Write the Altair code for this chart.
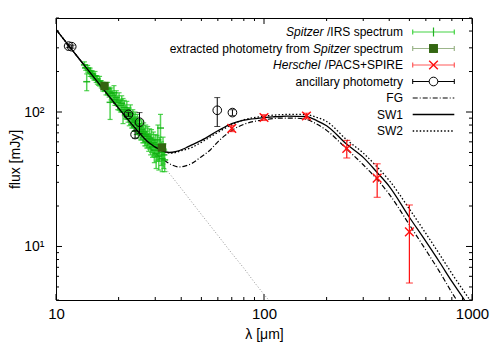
import altair as alt
import pandas as pd

# ---------------- data ----------------
spitzer_wl = [13.7, 13.9, 14.05, 14.2, 14.4, 14.6, 14.8, 15.0, 15.2, 15.4, 15.6, 15.8, 16.0, 16.2, 16.5, 16.8, 17.1, 17.4, 17.7, 18.0,
              18.2, 18.4, 18.7, 19.0, 19.2, 19.5, 19.8, 20.1, 20.4, 20.7, 21.0, 21.3, 21.6, 21.9, 22.2, 22.5, 22.8, 23.1, 23.4, 23.7,
              24.0, 24.3, 24.6, 24.9, 25.2, 25.5, 25.8, 26.1, 26.4, 26.7, 27.0, 27.3, 27.6, 27.9, 28.2, 28.5, 28.8, 29.1, 29.4, 29.7,
              30.0, 30.3, 30.6, 30.9, 31.2, 31.5, 31.8, 32.1, 32.4, 32.7, 33.0, 33.3]
spitzer_flux = [224, 214, 168, 210, 204, 198, 193, 190, 183, 186, 176, 173, 168, 170, 161, 155, 152, 146, 150, 141,
                118, 137, 132, 139, 124, 128, 118, 121, 112, 116, 104, 108, 101, 104, 96, 93, 97, 88, 90, 84,
                86, 80, 82, 76, 78, 72, 74, 69, 71, 66, 68, 63, 66, 60, 64, 58, 62, 55, 59, 52,
                57, 49, 55, 62, 47, 54, 76, 50, 45, 53, 48, 44]
spitzer_err = [12, 10, 24, 12, 10, 14, 10, 12, 10, 14, 10, 12, 10, 14, 10, 12, 10, 12, 16, 12,
               30, 14, 12, 18, 12, 16, 14, 18, 12, 16, 22, 14, 12, 16, 12, 14, 16, 12, 14, 12,
               14, 12, 14, 12, 10, 10, 12, 10, 12, 10, 12, 9, 12, 9, 11, 10, 12, 9, 12, 10,
               11, 11, 12, 18, 10, 11, 20, 10, 9, 12, 10, 8]

phot_wl = [17.1, 32.3]
phot_flux = [156, 54.4]
phot_err = [3, 2]

herschel_wl = [70, 100, 160, 250, 350, 500]
herschel_flux = [75.5, 91, 93.4, 53.5, 32.2, 12.85]
herschel_err = [4, 4.5, 4.5, 8, 9, 7.5]

anc_wl = [11.5, 11.9, 22.3, 24.0, 25.2, 59.6, 70.5]
anc_flux = [309, 306, 96, 68, 84, 103, 99]
anc_err = [8, 8, 3, 4, 15, 25, 5]

sw1_wl = [10, 12, 14, 17, 20, 24, 28, 32, 35, 38, 42, 45, 50, 60, 70, 80, 95, 110, 130, 160, 180, 200, 250, 300, 350, 400, 500, 600, 700, 800, 920, 960]
sw1_flux = [411, 287, 213, 146, 107, 76, 59, 52, 50, 51, 54, 57, 61.5, 72.5, 82, 87, 90, 92, 93.3, 92.5, 86, 79, 57.5, 46, 35.5, 28, 16.5, 10.9, 7.6, 5.5, 4.0, 3.6]

fg_wl = [10, 12, 14, 17, 20, 24, 28, 32, 36, 39, 42, 45, 49, 55, 60, 65, 70, 80, 100, 120, 140, 160, 180, 200, 250, 300, 350, 400, 500, 600, 700, 800, 843, 880]
fg_flux = [411, 287, 212, 144, 105, 73, 55, 45.5, 40.5, 39, 39.8, 41.5, 45.5, 52, 60, 67, 73, 81, 87.5, 90, 90, 88, 81, 73, 53, 40.5, 31.5, 24.5, 14.5, 9.4, 6.45, 4.55, 4.0, 3.6]

sw2_wl = [10, 12, 14, 17, 20, 24, 28, 32, 36, 40, 45, 50, 60, 70, 80, 100, 120, 140, 160, 180, 200, 250, 300, 350, 400, 500, 600, 700, 800, 977, 1000]
sw2_flux = [411, 287, 213, 146, 107, 76, 59, 51.5, 49.5, 51.5, 54.5, 59.5, 70.5, 80.5, 87.5, 93, 95.5, 96, 95.5, 91, 85, 62, 49.5, 39, 31, 19, 12.5, 8.7, 6.3, 4.0, 3.8]

pl_wl = [10, 20, 30, 40, 50, 60, 70, 80, 90, 100, 106, 110]
pl_flux = [411, 105, 47.5, 27, 17.3, 12.1, 8.9, 6.9, 5.4, 4.4, 3.95, 3.7]

x_major = [10, 100, 1000]
x_minor = [20, 30, 40, 50, 60, 70, 80, 90, 200, 300, 400, 500, 600, 700, 800, 900]
y_major = [10, 100]
y_minor = [4, 5, 6, 7, 8, 9, 20, 30, 40, 50, 60, 70, 80, 90, 200, 300, 400, 500]

# ---------------- tables ----------------
def with_bars(wl, f, e):
    df = pd.DataFrame({"wl": wl, "f": f, "e": e})
    df["lo"] = df.f - df.e
    df["hi"] = df.f + df.e
    return df


spz = with_bars(spitzer_wl, spitzer_flux, spitzer_err)
pho = with_bars(phot_wl, phot_flux, phot_err)
her = with_bars(herschel_wl, herschel_flux, herschel_err)
anc = with_bars(anc_wl, anc_flux, anc_err)
sw1 = pd.DataFrame({"wl": sw1_wl, "f": sw1_flux})
fg = pd.DataFrame({"wl": fg_wl, "f": fg_flux})
sw2 = pd.DataFrame({"wl": sw2_wl, "f": sw2_flux})
pl = pd.DataFrame({"wl": pl_wl, "f": pl_flux})
xt_maj = pd.DataFrame({"v": x_major})
xt_min = pd.DataFrame({"v": x_minor})
yt_maj = pd.DataFrame({"v": y_major})
yt_min = pd.DataFrame({"v": y_minor})
dummy = pd.DataFrame({"a": [0]})

W, H = 416, 282
FONT = "Liberation Sans"
xscale = alt.Scale(type="log", domain=[10, 1000], nice=False)
yscale = alt.Scale(type="log", domain=[4, 500], nice=False)
xaxis = alt.Axis(values=x_major, format="d", ticks=False, domain=False, grid=False,
                 labelFontSize=15, labelFont=FONT, labelColor="black", labelPadding=6,
                 labelFlush=False, titleFontSize=14, titleFont=FONT, titleFontWeight="normal",
                 titleColor="black", titleY=38, titleBaseline="alphabetic")
yaxis = alt.Axis(values=y_major, labelExpr="datum.value == 100 ? '10²' : '10¹'",
                 ticks=False, domain=False, grid=False,
                 labelFontSize=14, labelFont=FONT, labelColor="black", labelPadding=12,
                 labelFlush=False, titleFontSize=14, titleFont=FONT, titleFontWeight="normal",
                 titleColor="black", titleX=-37, titleY=H / 2, titleBaseline="alphabetic",
                 titleAngle=270)


def X(field="wl"):
    return alt.X(f"{field}:Q", scale=xscale, axis=xaxis, title="λ [μm]")


def Y(field="f"):
    return alt.Y(f"{field}:Q", scale=yscale, axis=yaxis, title="flux [mJy]")


def Y2(field):
    return alt.Y2(f"{field}:Q")


layers = []

# inward ticks on all four sides
for df, ln in ((xt_maj, 6), (xt_min, 3)):
    layers.append(alt.Chart(df).mark_rule(color="black", strokeWidth=1).encode(
        x=X("v"), y=alt.value(H), y2=alt.value(H - ln)))
    layers.append(alt.Chart(df).mark_rule(color="black", strokeWidth=1).encode(
        x=X("v"), y=alt.value(0), y2=alt.value(ln)))
for df, ln in ((yt_maj, 6), (yt_min, 3)):
    layers.append(alt.Chart(df).mark_rule(color="black", strokeWidth=1).encode(
        y=Y("v"), x=alt.value(0), x2=alt.value(ln)))
    layers.append(alt.Chart(df).mark_rule(color="black", strokeWidth=1).encode(
        y=Y("v"), x=alt.value(W), x2=alt.value(W - ln)))

# model curves
layers.append(alt.Chart(pl).mark_line(color="#777777", strokeWidth=0.8, strokeDash=[1, 2], clip=True).encode(
    x=X(), y=Y()))
layers.append(alt.Chart(fg).mark_line(color="black", strokeWidth=1.2, strokeDash=[5, 2, 1, 2], clip=True,
                                      interpolate="monotone").encode(x=X(), y=Y()))
layers.append(alt.Chart(sw2).mark_line(color="black", strokeWidth=1.3, strokeDash=[1.5, 2], clip=True,
                                       interpolate="monotone").encode(x=X(), y=Y()))

# Spitzer spectrum
GREEN = "#1cc41c"
layers.append(alt.Chart(spz).mark_rule(color=GREEN, strokeWidth=1.5, opacity=0.75).encode(
    x=X(), y=Y("lo"), y2=Y2("hi")))
for c in ("lo", "hi"):
    layers.append(alt.Chart(spz).mark_tick(color=GREEN, orient="horizontal", size=5, thickness=1.2, opacity=0.75).encode(
        x=X(), y=Y(c)))
layers.append(alt.Chart(spz).mark_tick(color="#0fb00f", orient="horizontal", size=7, thickness=1.5, opacity=0.9).encode(
    x=X(), y=Y()))

# solid SW1 on top of the spectrum
layers.append(alt.Chart(sw1).mark_line(color="black", strokeWidth=1.3, clip=True, interpolate="monotone").encode(
    x=X(), y=Y()))

# extracted photometry
layers.append(alt.Chart(pho).mark_rule(color="#8fae7c", strokeWidth=1).encode(
    x=X(), y=Y("lo"), y2=Y2("hi")))
layers.append(alt.Chart(pho).mark_point(shape="square", filled=True, color="#336611", size=70, opacity=1).encode(
    x=X(), y=Y()))

# Herschel
RED = "#ff1010"
XPATH = "M-1,-1L1,1M-1,1L1,-1"
layers.append(alt.Chart(her).mark_rule(color=RED, strokeWidth=1.2).encode(
    x=X(), y=Y("lo"), y2=Y2("hi")))
for c in ("lo", "hi"):
    layers.append(alt.Chart(her).mark_tick(color=RED, orient="horizontal", size=7, thickness=1.2).encode(
        x=X(), y=Y(c)))
layers.append(alt.Chart(her).mark_point(shape=XPATH, filled=False, color=RED, size=75, strokeWidth=1.4, opacity=1).encode(
    x=X(), y=Y()))

# ancillary photometry
layers.append(alt.Chart(anc).mark_rule(color="black", strokeWidth=1).encode(
    x=X(), y=Y("lo"), y2=Y2("hi")))
for c in ("lo", "hi"):
    layers.append(alt.Chart(anc).mark_tick(color="black", orient="horizontal", size=6, thickness=1).encode(
        x=X(), y=Y(c)))
layers.append(alt.Chart(anc).mark_point(shape="circle", filled=False, color="black", size=75, strokeWidth=1, opacity=1).encode(
    x=X(), y=Y()))

# ---------------- key (gnuplot style, inside top right) ----------------
TX = 347          # right edge of key texts
S0, S1 = 356.7, 398.3
SC = (S0 + S1) / 2
rows = [14 + 16.5 * i for i in range(7)]


def txt(s, x, y, italic=False):
    return alt.Chart(dummy).mark_text(align="right", baseline="middle", fontSize=12, font=FONT,
                                      fontStyle="italic" if italic else "normal", color="black").encode(
        x=alt.value(x), y=alt.value(y), text=alt.value(s))


def hline(y, color, width=1.2, dash=None):
    kw = dict(color=color, strokeWidth=width)
    if dash:
        kw["strokeDash"] = dash
    return alt.Chart(dummy).mark_rule(**kw).encode(x=alt.value(S0), x2=alt.value(S1), y=alt.value(y))


def vcap(x, y, color, half=2.5, width=1.2):
    return alt.Chart(dummy).mark_rule(color=color, strokeWidth=width).encode(
        x=alt.value(x), y=alt.value(y - half), y2=alt.value(y + half))


w_irs = 6335 * 12 / 1000
w_spec = 4112 * 12 / 1000
w_spitz = 3112 * 12 / 1000
w_pacs = 6586 * 12 / 1000
sp = 3.3

# row 1
layers += [txt("/IRS spectrum", TX, rows[0]), txt("Spitzer", TX - w_irs - 3.5, rows[0], True),
           hline(rows[0], "#44d444"), vcap(S0, rows[0], "#44d444"), vcap(S1, rows[0], "#44d444"),
           vcap(SC, rows[0], "#22b022", half=4.5)]
# row 2
layers += [txt("spectrum", TX, rows[1]), txt("Spitzer", TX - w_spec - sp, rows[1], True),
           txt("extracted photometry from", TX - w_spec - sp - w_spitz - sp, rows[1]),
           hline(rows[1], "#9cb58a"), vcap(S0, rows[1], "#9cb58a"), vcap(S1, rows[1], "#9cb58a"),
           alt.Chart(dummy).mark_point(shape="square", filled=True, color="#336611", size=80, opacity=1).encode(
               x=alt.value(SC), y=alt.value(rows[1]))]
# row 3
layers += [txt("/PACS+SPIRE", TX, rows[2]), txt("Herschel", TX - w_pacs - 3.5, rows[2], True),
           hline(rows[2], "#ff5a5a"), vcap(S0, rows[2], "#ff5a5a"), vcap(S1, rows[2], "#ff5a5a"),
           alt.Chart(dummy).mark_point(shape=XPATH, filled=False, color=RED, size=75, strokeWidth=1.4, opacity=1).encode(
               x=alt.value(SC), y=alt.value(rows[2]))]
# row 4
layers += [txt("ancillary photometry", TX, rows[3]),
           hline(rows[3], "black", 1), vcap(S0, rows[3], "black", width=1), vcap(S1, rows[3], "black", width=1),
           alt.Chart(dummy).mark_point(shape="circle", filled=True, color="white", size=75, opacity=1).encode(
               x=alt.value(SC), y=alt.value(rows[3])),
           alt.Chart(dummy).mark_point(shape="circle", filled=False, color="black", size=75, strokeWidth=1, opacity=1).encode(
               x=alt.value(SC), y=alt.value(rows[3]))]
# rows 5-7
layers += [txt("FG", TX, rows[4]), hline(rows[4], "black", 1.2, [5, 2, 1, 2]),
           txt("SW1", TX, rows[5]), hline(rows[5], "black", 1.3),
           txt("SW2", TX, rows[6]), hline(rows[6], "black", 1.3, [1.5, 2])]

chart = alt.layer(*layers).properties(
    width=W, height=H,
    autosize=alt.AutoSizeParams(type="none"),
    padding={"left": 48, "top": 10, "right": 20, "bottom": 42},
    background="white",
).configure_view(stroke="black", strokeWidth=1)

chart.save("out.html", embed_options={"renderer": "svg", "actions": False})
